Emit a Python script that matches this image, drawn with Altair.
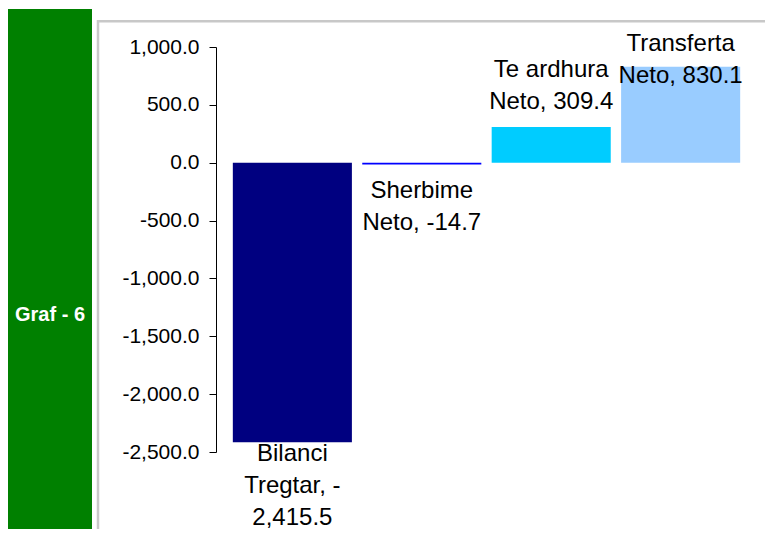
import altair as alt
import pandas as pd

categories = ["Bilanci Tregtar", "Sherbime Neto", "Te ardhura Neto", "Transferta Neto"]
values = [-2415.5, -14.7, 309.4, 830.1]
label_lines = [
    "Bilanci\nTregtar, -\n2,415.5",
    "Sherbime\nNeto, -14.7",
    "Te ardhura\nNeto, 309.4",
    "Transferta\nNeto, 830.1",
]
colors = ["#000080", "#0000FF", "#00CCFF", "#99CCFF"]
y_ticks = [-2500, -2000, -1500, -1000, -500, 0, 500, 1000]
panel_title = "Graf - 6"

FONT = "Liberation Sans"

df = pd.DataFrame({"category": categories, "value": values, "label": label_lines})
one = pd.DataFrame({"k": [0]})

x_enc = alt.X(
    "category:N",
    sort=categories,
    scale=alt.Scale(paddingInner=0.08, paddingOuter=0.13),
    axis=None,
)
y_scale = alt.Scale(domain=[-2500, 1000], nice=False, zero=False)
y_axis = alt.Axis(
    values=y_ticks,
    labelExpr="(datum.value < 0 ? '-' : '') + format(abs(datum.value), ',.1f')",
    grid=False,
    domainColor="black",
    tickColor="black",
    tickSize=7,
    labelFontSize=21,
    labelColor="black",
    labelFont=FONT,
    labelPadding=10,
    title=None,
)

bars = alt.Chart(df).mark_bar().encode(
    x=x_enc,
    y=alt.Y("value:Q", scale=y_scale, axis=y_axis, title=None),
    y2=alt.datum(0),
    color=alt.Color("category:N", scale=alt.Scale(domain=categories, range=colors), legend=None),
)

pos_labels = (
    alt.Chart(df)
    .transform_filter("datum.value >= 0")
    .transform_calculate(lab_y="min(datum.value, 536)")
    .mark_text(lineBreak="\n", lineHeight=32, fontSize=24, font=FONT, baseline="bottom", dy=-45, color="black")
    .encode(x=x_enc, y=alt.Y("lab_y:Q", scale=y_scale, axis=y_axis, title=None), text="label:N")
)

neg_labels = (
    alt.Chart(df)
    .transform_filter("datum.value < 0")
    .transform_calculate(lab_y="max(datum.value, -2286)")
    .mark_text(lineBreak="\n", lineHeight=32, fontSize=24, font=FONT, baseline="top", dy=15, color="black")
    .encode(x=x_enc, y=alt.Y("lab_y:Q", scale=y_scale, axis=y_axis, title=None), text="label:N")
)

green = alt.Chart(one).mark_rect(color="#008000").encode(
    x=alt.value(-208), x2=alt.value(-124), y=alt.value(-38), y2=alt.value(482)
)
green_text = alt.Chart(one).mark_text(
    text=panel_title, color="white", fontSize=20, fontWeight="bold", font=FONT
).encode(x=alt.value(-166), y=alt.value(268))

frame_top = alt.Chart(one).mark_rule(color="#c8c8c8", strokeWidth=2.5).encode(
    x=alt.value(-119), x2=alt.value(549), y=alt.value(-25.7)
)
frame_left = alt.Chart(one).mark_rule(color="#c8c8c8", strokeWidth=2.5).encode(
    x=alt.value(-118), y=alt.value(-27), y2=alt.value(482)
)

chart = (
    alt.layer(green, green_text, frame_top, frame_left, bars, pos_labels, neg_labels)
    .properties(
        width=541,
        height=405,
        autosize=alt.AutoSizeParams(type="none"),
        padding={"left": 208, "top": 39, "right": 8, "bottom": 77},
        background="white",
    )
    .configure_view(stroke=None)
)

chart.save("out.html", embed_options={"renderer": "svg", "actions": False})
